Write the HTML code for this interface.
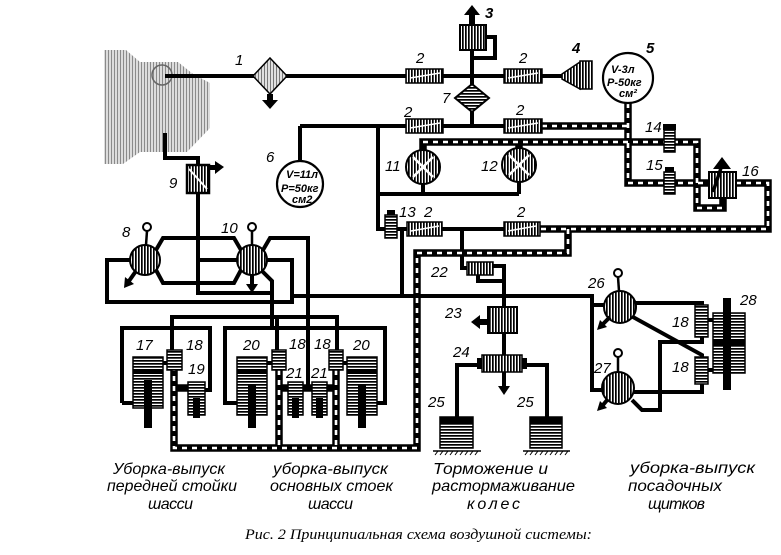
<!DOCTYPE html>
<html><head><meta charset="utf-8"><style>
html,body{margin:0;padding:0;background:#fff;}
svg{display:block;}
.s{fill:none;stroke:#000;stroke-width:4;stroke-linejoin:miter;stroke-linecap:butt;}
.dk{fill:none;stroke:#000;stroke-width:7.5;stroke-linejoin:miter;}
.dw{fill:none;stroke:#fff;stroke-width:2.6;stroke-dasharray:5 5;}
.n{font-family:"Liberation Sans",sans-serif;font-style:italic;font-size:15px;fill:#000;}
.c{font-family:"Liberation Sans",sans-serif;font-style:italic;font-size:16px;fill:#000;}
.t{font-family:"Liberation Sans",sans-serif;font-style:italic;font-weight:bold;font-size:11px;fill:#000;}
.cap{font-family:"Liberation Serif",serif;font-style:italic;font-size:15px;fill:#000;}
</style></head><body>
<svg width="781" height="555" viewBox="0 0 781 555" xmlns="http://www.w3.org/2000/svg">
<defs>
<pattern id="vh" width="3" height="3" patternUnits="userSpaceOnUse"><rect width="3" height="3" fill="#fff"/><rect width="1.7" height="3" fill="#000"/></pattern>
<pattern id="hh" width="3" height="3" patternUnits="userSpaceOnUse"><rect width="3" height="3" fill="#fff"/><rect width="3" height="1.7" fill="#000"/></pattern>
<pattern id="eg" width="3" height="4" patternUnits="userSpaceOnUse"><rect width="3" height="4" fill="#dcdcdc"/><rect width="1" height="4" fill="#8a8a8a"/></pattern>
<pattern id="lg" width="3" height="3" patternUnits="userSpaceOnUse"><rect width="3" height="3" fill="#e0e0e0"/><rect width="1" height="3" fill="#777"/></pattern>
</defs>

<!-- engine -->
<polygon points="104,50 126,50 140,62 178,62 193,74 210,83 210,128 187,152 140,152 123,164 104,164" fill="url(#eg)"/>
<circle cx="162" cy="75" r="10" fill="none" stroke="#666" stroke-width="1.5"/>

<!-- solid lines -->
<path class="s" d="M165,76 H565 M472,76 V50 M486,37 H495 V58 H472 M472,76 V126
M300,126 H542 M300,126 V161 M378,126 V229 H385 M378,194 H519 M423,184 V194 M519,182 V194
M397,229 H540 M402,229 V296 M462,229 V268 H467 M493,266 H504 V388 M478,275 V281 H504
M477,365 H457 V417 M527,365 H547 V417
M292,296 H592 V390 H602 M592,305 H604
M636,303 H702 V305 M702,337 V342 H660 V410 H642 L632,400 M633,317 L702,355 V357 M634,392 H702 V384
M708,320 H713 M708,370 H713
M165,133 V158 H198 V165 M198,193 V293 H272 M198,260 H237
M130,260 H107 V302 H292 V260 H267
M156,250 L163,238 H234 L241,250 M156,270 L163,283 H234 L241,270
M263,250 L270,238 H308 V388 M262,271 L272,281 V328
M172,350 V317 H337 V350 M277,317 V350
M122,403 V328 H210 V390 H205 M122,403 H133
M237,403 H225 V328 H385 V403 H377
M163,363 H167 M267,363 H272 M343,363 H347 M303,388 H312"/>

<!-- dashed lines -->
<g>
<path class="dk" d="M542,126 H628 M628,103 V183 H709 M736,183 H768 V229 H540 M423,150 V142 H697 V208 H723 V198 M519,148 V142
M568,229 V253 H417 V448 H174 V370 M279,370 V448 M336,370 V448 M174,388 H188 M279,388 H336"/>
<path class="dw" d="M542,126 H628 M628,103 V183 H709 M736,183 H768 V229 H540 M423,142 H697 V208 H723
M568,229 V253 H417 V448 H174 V370 M279,370 V448 M336,370 V448"/>
</g>

<!-- filter 1 -->
<polygon points="270,58 287,76 270,94 253,76" fill="url(#lg)" stroke="#000" stroke-width="1.5"/>
<rect x="267" y="94" width="6" height="7" fill="#000"/>
<polygon points="262,100 278,100 270,109" fill="#000"/>

<!-- elements 2 -->
<g fill="url(#vh)" stroke="#000" stroke-width="1.5">
<rect x="406" y="69" width="37" height="14"/><rect x="504" y="69" width="38" height="14"/>
<rect x="406" y="119" width="37" height="14"/><rect x="504" y="119" width="38" height="14"/>
<rect x="407" y="222" width="35" height="14"/><rect x="504" y="222" width="36" height="14"/>
</g>
<g stroke="#fff" stroke-width="1.5">
<line x1="410" y1="78" x2="440" y2="73"/><line x1="508" y1="78" x2="538" y2="73"/>
<line x1="410" y1="128" x2="440" y2="123"/><line x1="508" y1="128" x2="538" y2="123"/>
<line x1="411" y1="231" x2="439" y2="226"/><line x1="508" y1="231" x2="536" y2="226"/>
</g>

<!-- 3 -->
<rect x="460" y="25" width="26" height="25" fill="url(#vh)" stroke="#000" stroke-width="2"/>
<rect x="469" y="14" width="6" height="11" fill="#000"/>
<polygon points="464,15 480,15 472,5" fill="#000"/>
<!-- 4 -->
<polygon points="562,74 580,62 580,89 562,79" fill="url(#vh)" stroke="#000" stroke-width="1.5"/>
<rect x="580" y="61" width="12" height="28" fill="url(#vh)" stroke="#000" stroke-width="1.5"/>
<!-- 7 -->
<polygon points="472,84 489,98 472,112 455,98" fill="url(#hh)" stroke="#000" stroke-width="2"/>

<!-- 5 -->
<circle cx="628" cy="78" r="25" fill="#fff" stroke="#000" stroke-width="2.2"/>
<text class="t" x="611" y="73">V-3л</text>
<text class="t" x="607" y="86">P-50кг</text>
<text class="t" x="619" y="97" font-size="8">см²</text>
<!-- 6 -->
<circle cx="300" cy="184" r="23" fill="#fff" stroke="#000" stroke-width="2.2"/>
<text class="t" x="286" y="178">V=11л</text>
<text class="t" x="281" y="192">P=50кг</text>
<text class="t" x="292" y="203" font-size="8">см2</text>

<!-- 11, 12 -->
<circle cx="423" cy="167" r="17" fill="url(#vh)" stroke="#000" stroke-width="2"/>
<circle cx="519" cy="165" r="17" fill="url(#vh)" stroke="#000" stroke-width="2"/>
<g stroke="#fff" stroke-width="2.5"><path d="M413,157 L433,177 M433,157 L413,177 M509,155 L529,175 M529,155 L509,175"/></g>

<!-- 13,14,15 -->
<g fill="url(#hh)" stroke="#000" stroke-width="1.5">
<rect x="385" y="215" width="12" height="23"/>
<rect x="664" y="130" width="11" height="22"/>
<rect x="664" y="172" width="11" height="22"/>
</g>
<rect x="387" y="210" width="8" height="5" fill="#000"/>
<rect x="663" y="124" width="13" height="6" fill="#000"/>
<rect x="665" y="167" width="9" height="5" fill="#000"/>

<!-- 16 -->
<rect x="709" y="172" width="27" height="26" fill="url(#vh)" stroke="#000" stroke-width="2"/>
<line x1="713" y1="192" x2="721" y2="168" stroke="#000" stroke-width="3.5"/>
<polygon points="713,169 731,169 722,157" fill="#000"/>

<!-- 22,23,24 -->
<rect x="467" y="262" width="26" height="13" fill="url(#vh)" stroke="#000" stroke-width="1.5"/>
<rect x="488" y="307" width="29" height="26" fill="url(#vh)" stroke="#000" stroke-width="2"/>
<rect x="478" y="319" width="10" height="6" fill="#000"/>
<polygon points="480,315 480,329 471,322" fill="#000"/>
<rect x="482" y="355" width="40" height="17" fill="url(#vh)" stroke="#000" stroke-width="1.5"/>
<rect x="477" y="358" width="5" height="11" fill="#000"/><rect x="522" y="358" width="5" height="11" fill="#000"/>
<polygon points="498,386 510,386 504,395" fill="#000"/>
<!-- 25 -->
<g fill="url(#hh)" stroke="#000" stroke-width="1.5">
<rect x="440" y="417" width="33" height="31"/><rect x="530" y="417" width="32" height="31"/>
</g>
<rect x="440" y="417" width="33" height="6" fill="#000"/><rect x="530" y="417" width="32" height="6" fill="#000"/>
<path d="M433,451 H481 M523,451 H570" stroke="#000" stroke-width="1.5"/>
<path d="M435,455 l3,-4 M440,455 l3,-4 M445,455 l3,-4 M450,455 l3,-4 M455,455 l3,-4 M460,455 l3,-4 M465,455 l3,-4 M470,455 l3,-4 M475,455 l3,-4 M525,455 l3,-4 M530,455 l3,-4 M535,455 l3,-4 M540,455 l3,-4 M545,455 l3,-4 M550,455 l3,-4 M555,455 l3,-4 M560,455 l3,-4 M565,455 l3,-4" stroke="#000" stroke-width="1"/>

<!-- valves 8,10,26,27 -->
<g fill="url(#vh)" stroke="#000" stroke-width="2">
<circle cx="145" cy="260" r="15"/><circle cx="252" cy="260" r="15"/>
<circle cx="620" cy="307" r="16"/><circle cx="618" cy="388" r="16"/>
</g>
<g stroke="#000" stroke-width="2.5">
<line x1="146" y1="245" x2="147" y2="231"/><line x1="252" y1="245" x2="252" y2="231"/>
<line x1="619" y1="291" x2="618" y2="277"/><line x1="618" y1="372" x2="618" y2="357"/>
</g>
<g fill="#fff" stroke="#000" stroke-width="2">
<circle cx="147" cy="227" r="4"/><circle cx="252" cy="227" r="4"/>
<circle cx="618" cy="273" r="4"/><circle cx="618" cy="353" r="4"/>
</g>
<g stroke="#000" stroke-width="4">
<line x1="136" y1="271" x2="129" y2="281"/><line x1="252" y1="275" x2="252" y2="285"/>
<line x1="610" y1="317" x2="603" y2="324"/><line x1="608" y1="399" x2="603" y2="405"/>
</g>
<g fill="#000">
<polygon points="124,288 125,277 134,284"/><polygon points="246,284 258,284 252,293"/>
<polygon points="597,330 600,320 607,327"/><polygon points="597,411 600,401 607,408"/>
</g>

<!-- 18 right, 28 -->
<g fill="url(#hh)" stroke="#000" stroke-width="1.5">
<rect x="695" y="305" width="13" height="32"/><rect x="695" y="357" width="13" height="27"/>
<rect x="713" y="313" width="32" height="60"/>
</g>
<rect x="723" y="298" width="8" height="92" fill="#000"/>
<rect x="713" y="340" width="32" height="6" fill="#000"/>

<!-- 9 -->
<rect x="187" y="165" width="22" height="28" fill="url(#vh)" stroke="#000" stroke-width="2.5"/>
<line x1="189" y1="169" x2="207" y2="189" stroke="#fff" stroke-width="2"/>
<rect x="209" y="165" width="7" height="5" fill="#000"/>
<polygon points="215,161 215,174 224,167" fill="#000"/>

<!-- left actuators -->
<g fill="url(#hh)" stroke="#000" stroke-width="1.5">
<rect x="133" y="357" width="30" height="51"/>
<rect x="237" y="357" width="30" height="58"/><rect x="347" y="357" width="30" height="58"/>
<rect x="188" y="382" width="17" height="33"/><rect x="288" y="382" width="15" height="33"/><rect x="312" y="382" width="15" height="33"/>
<rect x="167" y="350" width="15" height="20"/><rect x="272" y="350" width="14" height="20"/><rect x="329" y="350" width="14" height="20"/>
</g>
<g fill="#000">
<rect x="133" y="370" width="30" height="4"/><rect x="237" y="370" width="30" height="4"/><rect x="347" y="370" width="30" height="4"/>
<rect x="144" y="380" width="8" height="48"/><rect x="248" y="385" width="8" height="43"/><rect x="358" y="385" width="8" height="43"/>
<rect x="193" y="398" width="7" height="20"/><rect x="292" y="398" width="7" height="20"/><rect x="316" y="398" width="7" height="20"/>
</g>

<!-- number labels -->
<text class="n" x="235" y="65">1</text>
<text class="n" x="416" y="63">2</text><text class="n" x="519" y="63">2</text>
<text class="n" x="404" y="117">2</text><text class="n" x="516" y="115">2</text>
<text class="n" x="424" y="217">2</text><text class="n" x="517" y="217">2</text>
<text class="n" x="485" y="18" font-size="17" font-weight="bold">3</text>
<text class="n" x="572" y="53" font-size="16" font-weight="bold">4</text>
<text class="n" x="646" y="53" font-size="16" font-weight="bold">5</text>
<text class="n" x="266" y="162">6</text>
<text class="n" x="442" y="103">7</text>
<text class="n" x="122" y="237">8</text>
<text class="n" x="169" y="188">9</text>
<text class="n" x="221" y="233">10</text>
<text class="n" x="385" y="171">11</text>
<text class="n" x="481" y="171">12</text>
<text class="n" x="399" y="217">13</text>
<text class="n" x="645" y="132">14</text>
<text class="n" x="646" y="170">15</text>
<text class="n" x="742" y="176">16</text>
<text class="n" x="136" y="350">17</text>
<text class="n" x="186" y="350">18</text><text class="n" x="289" y="349">18</text><text class="n" x="314" y="349">18</text>
<text class="n" x="188" y="374">19</text>
<text class="n" x="243" y="350">20</text><text class="n" x="353" y="350">20</text>
<text class="n" x="286" y="378">21</text><text class="n" x="311" y="378">21</text>
<text class="n" x="431" y="277">22</text>
<text class="n" x="445" y="318">23</text>
<text class="n" x="453" y="357">24</text>
<text class="n" x="428" y="407">25</text><text class="n" x="517" y="407">25</text>
<text class="n" x="588" y="288">26</text>
<text class="n" x="594" y="373">27</text>
<text class="n" x="672" y="327">18</text><text class="n" x="672" y="372">18</text>
<text class="n" x="740" y="305" font-size="16">28</text>

<!-- captions -->
<text class="c" x="113" y="474" textLength="112" lengthAdjust="spacingAndGlyphs">Уборка-выпуск</text>
<text class="c" x="107" y="491" textLength="130" lengthAdjust="spacingAndGlyphs">передней стойки</text>
<text class="c" x="148" y="509" textLength="45" lengthAdjust="spacing">шасси</text>
<text class="c" x="273" y="474" textLength="115" lengthAdjust="spacingAndGlyphs">уборка-выпуск</text>
<text class="c" x="270" y="491" textLength="123" lengthAdjust="spacingAndGlyphs">основных стоек</text>
<text class="c" x="308" y="509" textLength="45" lengthAdjust="spacing">шасси</text>
<text class="c" x="433" y="474" textLength="115" lengthAdjust="spacingAndGlyphs">Торможение и</text>
<text class="c" x="432" y="491" textLength="143" lengthAdjust="spacingAndGlyphs">растормаживание</text>
<text class="c" x="467" y="509" textLength="53" lengthAdjust="spacing">колес</text>
<text class="c" x="630" y="473" textLength="125" lengthAdjust="spacingAndGlyphs">уборка-выпуск</text>
<text class="c" x="628" y="491" textLength="94" lengthAdjust="spacingAndGlyphs">посадочных</text>
<text class="c" x="648" y="509" textLength="57" lengthAdjust="spacing">щитков</text>
<text class="cap" x="245" y="539" textLength="347" lengthAdjust="spacingAndGlyphs">Рис. 2 Принципиальная схема воздушной системы:</text>
</svg>
</body></html>
